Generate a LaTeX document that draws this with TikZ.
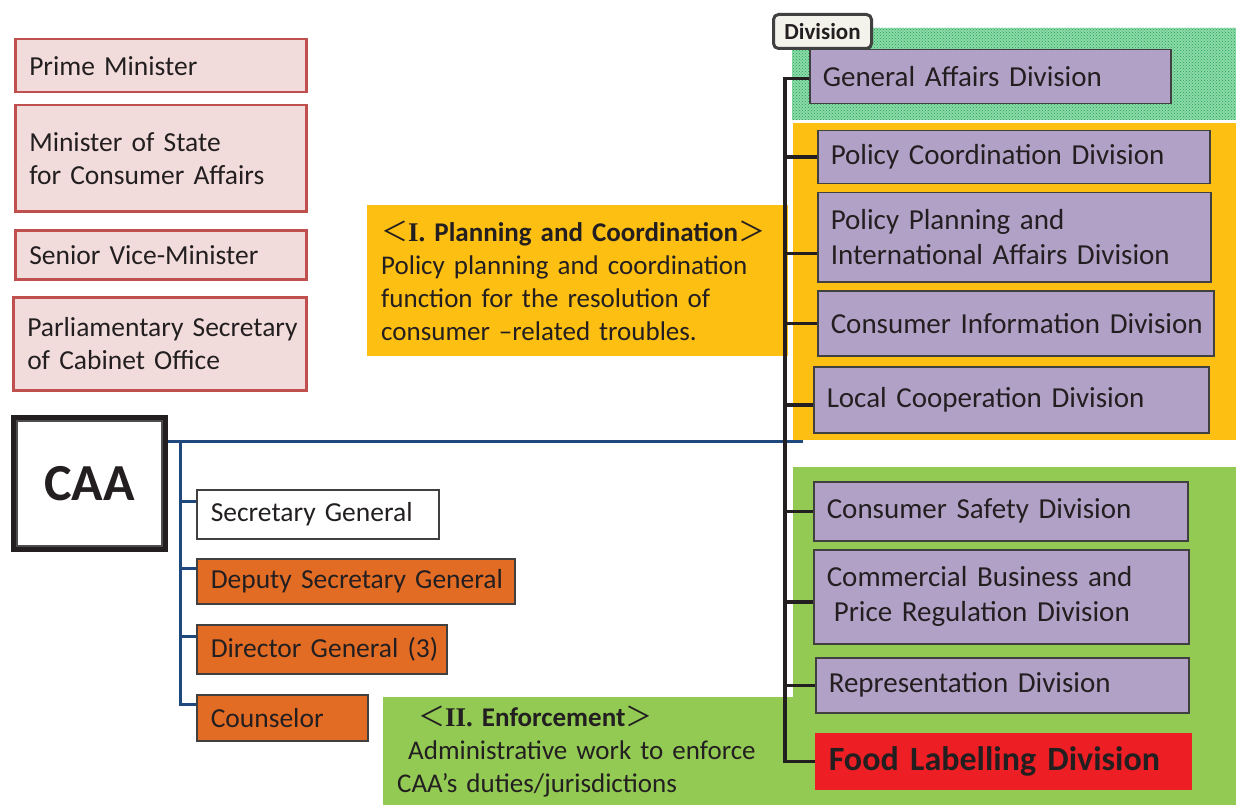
\documentclass[tikz,border=0pt]{standalone}
\usepackage{fontspec}
\setmainfont{Carlito}
\newfontfamily\cjk{Noto Sans CJK JP}
\newfontfamily\romnum{Liberation Serif}
\usepackage{tikz}
\usetikzlibrary{patterns}
\definecolor{inkdark}{RGB}{35,31,32}
\definecolor{pinkfill}{RGB}{242,220,219}
\definecolor{pinkline}{RGB}{192,80,77}
\definecolor{orangefill}{RGB}{227,108,37}
\definecolor{purplefill}{RGB}{178,161,199}
\definecolor{boxline}{RGB}{64,64,64}
\definecolor{planyellow}{RGB}{253,191,18}
\definecolor{enfgreen}{RGB}{146,202,84}
\definecolor{hatchgreen}{RGB}{30,165,85}
\definecolor{hatchlight}{RGB}{140,218,168}
\definecolor{foodred}{RGB}{237,30,36}
\definecolor{caablue}{RGB}{31,73,125}
\definecolor{labelfill}{RGB}{243,243,236}

\begin{document}
\begin{tikzpicture}[x=1pt, y=-1pt,
  every node/.style={text=inkdark, font=\fontsize{27.5}{33}\selectfont},
  pinkbox/.style={draw=pinkline, fill=pinkfill, line width=2.5pt, anchor=north west,
    align=left, inner xsep=14pt, inner ysep=0pt},
  staffbox/.style={draw=boxline, fill=orangefill, line width=1.5pt, anchor=north west,
    align=left, inner xsep=14pt, inner ysep=0pt},
  divbox/.style={draw=boxline, fill=purplefill, line width=1.5pt, anchor=north west,
    align=left, inner xsep=13pt, inner ysep=0pt, font=\fontsize{29}{35}\selectfont},
  functext/.style={anchor=north west, align=left, inner xsep=14pt, inner ysep=0pt,
    font=\fontsize{27}{33}\selectfont},
  blueline/.style={draw=caablue, line width=3pt},
  trunkline/.style={draw=inkdark, line width=3.5pt}]

\useasboundingbox (0,0) rectangle (1236,805);

% Fonds des groupes
\fill[hatchlight] (792,28) rectangle (1236,120);
\fill[pattern=crosshatch dots, pattern color=hatchgreen] (792,28) rectangle (1236,120);
\fill[planyellow] (793,123) rectangle (1236,440);
\fill[enfgreen] (793,467) rectangle (1236,805);

% Textes des fonctions
\node[functext, fill=planyellow, text width=393pt, minimum height=151pt] (plan) at (367,205)
  {{\cjk ＜}\textbf{{\romnum I.} Planning and Coordination}{\cjk ＞}\\
   Policy planning and coordination\\
   function for the resolution of\\
   consumer –related troubles.};
\node[functext, fill=enfgreen, text width=382pt, minimum height=108pt] (enf) at (383,697)
  {\hspace*{21pt}{\cjk ＜}\textbf{{\romnum II.} Enforcement}{\cjk ＞}\\
   \hspace*{11pt}Administrative work to enforce\\
   CAA’s duties/jurisdictions};

% Cabinet
\node[pinkbox, text width=263pt, minimum height=53pt] (pm) at (14,38) {Prime Minister};
\node[pinkbox, text width=263pt, minimum height=106pt] (ms) at (14,104)
  {Minister of State\\for Consumer Affairs};
\node[pinkbox, text width=263pt, minimum height=49pt] (svm) at (14,229) {Senior Vice-Minister};
\node[pinkbox, text width=265pt, minimum height=93pt] (pars) at (12,296)
  {\mbox{Parliamentary Secretary}\\of Cabinet Office};

% CAA
\node[draw=inkdark, line width=6pt, fill=white, anchor=north west, inner sep=0pt,
  minimum width=151pt, minimum height=131pt, font=\fontsize{52}{60}\selectfont\bfseries]
  (caa) at (11,415) {CAA};
\draw[inkdark!80, line width=1.5pt] ([shift={(6,6)}]caa.north west) rectangle ([shift={(-6,-6)}]caa.south east);

% Liaisons bleues
\coordinate (bluetop) at (803,441);
\coordinate (spine) at (180,441);
\draw[blueline] (caa.east |- bluetop) -- (bluetop);

% Secretariat
\node[staffbox, fill=white, text width=214pt, minimum height=49pt] (sg) at (196,489) {Secretary General};
\node[staffbox, text width=290pt, minimum height=45pt] (dsg) at (196,558) {\mbox{Deputy Secretary General}};
\node[staffbox, text width=222pt, minimum height=49pt] (dg) at (196,624) {\mbox{Director General (3)}};
\node[staffbox, text width=143pt, minimum height=46pt] (cou) at (196,694) {Counselor};

\draw[blueline] (spine) |- ([yshift=13pt]cou.west);
\draw[blueline] ([yshift=13pt]sg.west) -- ++(-16,0);
\draw[blueline] ([yshift=13pt]dsg.west) -- ++(-16,0);
\draw[blueline] ([yshift=13pt]dg.west) -- ++(-16,0);

% Divisions
\node[divbox, text width=335pt, minimum height=54pt] (ga) at (809,49) {General Affairs Division};
\node[divbox, text width=366pt, minimum height=53pt] (pc) at (817,130) {\mbox{Policy Coordination Division}};
\node[divbox, text width=367pt, minimum height=89pt] (pp) at (817,192)
  {Policy Planning and\\\mbox{International Affairs Division}};
\node[divbox, text width=370pt, minimum height=65pt] (ci) at (817,290) {\mbox{Consumer Information Division}};
\node[divbox, text width=369pt, minimum height=66pt] (lc) at (813,366) {\mbox{Local Cooperation Division}};
\node[divbox, text width=348pt, minimum height=59pt] (cs) at (813,481) {\mbox{Consumer Safety Division}};
\node[divbox, text width=349pt, minimum height=94pt] (cb) at (813,549)
  {\mbox{Commercial Business and}\\\hspace*{7pt}\mbox{Price Regulation Division}};
\node[divbox, text width=347pt, minimum height=55pt] (rep) at (815,657) {\mbox{Representation Division}};
\node[divbox, fill=foodred, draw=foodred, text width=349pt, minimum height=55pt,
  font=\fontsize{34}{40}\selectfont\bfseries] (food) at (815,733) {\mbox{Food Labelling Division}};

% Liaisons noires
\coordinate (trunk) at (785,78);
\draw[trunkline] ([yshift=-2pt]ga.west) -| (trunk |- food.west) -- (food.west);
\draw[trunkline] (trunk |- pc.west) -- (pc.west);
\draw[trunkline] ([yshift=-16pt]pp.west) -- ++(-32,0);
\draw[trunkline] (trunk |- ci.west) -- (ci.west);
\draw[trunkline] ([yshift=-5pt]lc.west) -- ++(-28,0);
\draw[trunkline] (trunk |- cs.west) -- (cs.west);
\draw[trunkline] ([yshift=-5pt]cb.west) -- ++(-28,0);
\draw[trunkline] (trunk |- rep.west) -- (rep.west);

% Etiquette
\node[draw=boxline, fill=labelfill, line width=3pt, rounded corners=5pt, anchor=north west,
  inner sep=0pt, minimum width=98pt, minimum height=34pt,
  font=\fontsize{23}{26}\selectfont\bfseries] (divlabel) at (772,13) {Division};

\end{tikzpicture}
\end{document}
